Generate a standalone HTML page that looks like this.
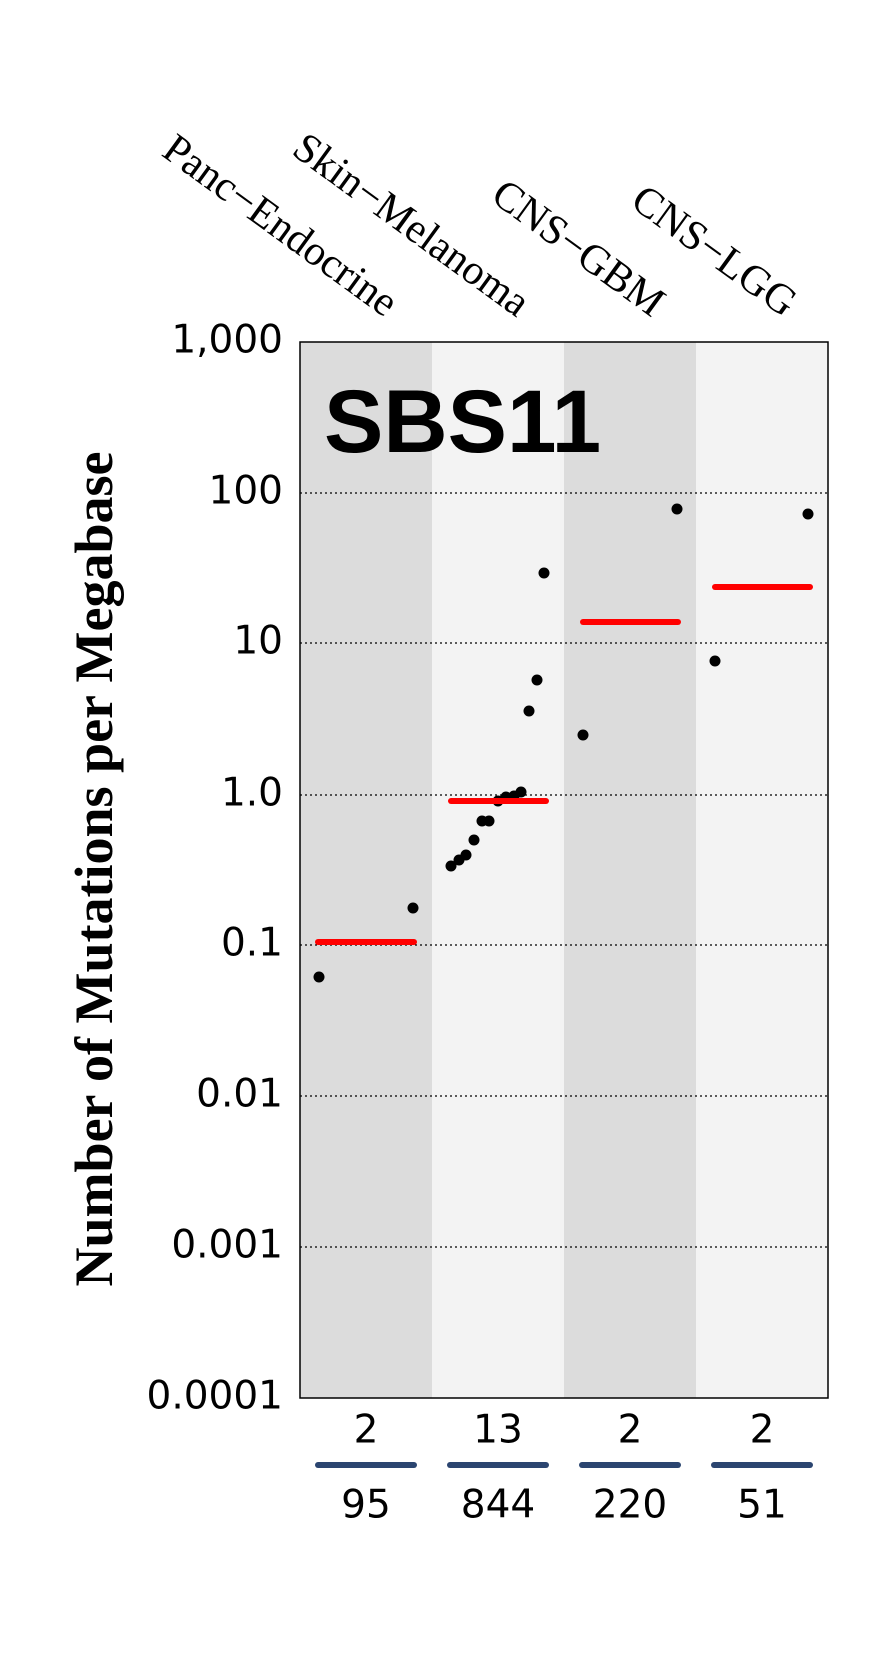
<!DOCTYPE html>
<html><head><meta charset="utf-8"><style>body{margin:0;background:#fff}</style></head><body>
<svg width="888" height="1650" xmlns="http://www.w3.org/2000/svg">
<rect width="888" height="1650" fill="#fff"/>
<rect x="300" y="342" width="132" height="1056" fill="#dcdcdc"/>
<rect x="432" y="342" width="132" height="1056" fill="#f3f3f3"/>
<rect x="564" y="342" width="132" height="1056" fill="#dcdcdc"/>
<rect x="696" y="342" width="132" height="1056" fill="#f3f3f3"/>
<g stroke="#000" stroke-width="1.2" stroke-dasharray="2,3">
<line x1="300" x2="828" y1="493" y2="493"/><line x1="300" x2="828" y1="643" y2="643"/>
<line x1="300" x2="828" y1="795" y2="795"/><line x1="300" x2="828" y1="945" y2="945"/>
<line x1="300" x2="828" y1="1096" y2="1096"/><line x1="300" x2="828" y1="1247" y2="1247"/>
</g>
<rect x="300" y="342" width="528" height="1056" fill="none" stroke="#000" stroke-width="1.5"/>
<g font-family="DejaVu Sans, Liberation Sans, sans-serif" font-size="39" text-anchor="end" dominant-baseline="middle">
<text x="283" y="342">1,000</text><text x="283" y="493">100</text><text x="283" y="643">10</text>
<text x="283" y="795">1.0</text><text x="283" y="945">0.1</text><text x="283" y="1096">0.01</text>
<text x="283" y="1247">0.001</text><text x="283" y="1398">0.0001</text>
</g>
<text x="324" y="452" font-family="Liberation Sans, sans-serif" font-weight="bold" font-size="89">SBS11</text>
<text transform="translate(112,869) rotate(-90)" text-anchor="middle" font-family="Liberation Serif, serif" font-weight="bold" font-size="54">Number of Mutations per Megabase</text>
<g font-family="Liberation Serif, serif" font-size="42" text-anchor="end">
<text transform="translate(385,318) rotate(36)">Panc−Endocrine</text>
<text transform="translate(517,318) rotate(36)">Skin−Melanoma</text>
<text transform="translate(652,318) rotate(36)">CNS−GBM</text>
<text transform="translate(784,318) rotate(36)">CNS−LGG</text>
</g>
<g fill="#000">
<circle cx="319" cy="977" r="5.5"/><circle cx="413" cy="908" r="5.5"/>
<circle cx="451" cy="866" r="5.5"/><circle cx="459" cy="860" r="5.5"/><circle cx="466" cy="855" r="5.5"/>
<circle cx="474" cy="840" r="5.5"/><circle cx="482" cy="821" r="5.5"/><circle cx="489" cy="821" r="5.5"/>
<circle cx="498" cy="801" r="5.5"/><circle cx="506" cy="797" r="5.5"/><circle cx="514" cy="796" r="5.5"/>
<circle cx="521" cy="792" r="5.5"/><circle cx="529" cy="711" r="5.5"/><circle cx="537" cy="680" r="5.5"/>
<circle cx="544" cy="573" r="5.5"/>
<circle cx="583" cy="735" r="5.5"/><circle cx="677" cy="509" r="5.5"/>
<circle cx="715" cy="661" r="5.5"/><circle cx="808" cy="514" r="5.5"/>
</g>
<g stroke="#ff0000" stroke-width="6" stroke-linecap="round">
<line x1="318" x2="414" y1="942" y2="942"/>
<line x1="451" x2="546" y1="801" y2="801"/>
<line x1="583" x2="678" y1="622" y2="622"/>
<line x1="715" x2="810" y1="587" y2="587"/>
</g>
<g stroke="#2b4570" stroke-width="6" stroke-linecap="round">
<line x1="318" x2="414" y1="1465" y2="1465"/><line x1="450" x2="546" y1="1465" y2="1465"/>
<line x1="582" x2="678" y1="1465" y2="1465"/><line x1="714" x2="810" y1="1465" y2="1465"/>
</g>
<g font-family="DejaVu Sans, Liberation Sans, sans-serif" font-size="39" text-anchor="middle" dominant-baseline="middle">
<text x="366" y="1432">2</text><text x="498" y="1432">13</text><text x="630" y="1432">2</text><text x="762" y="1432">2</text>
<text x="366" y="1507">95</text><text x="498" y="1507">844</text><text x="630" y="1507">220</text><text x="762" y="1507">51</text>
</g>
</svg>
</body></html>
